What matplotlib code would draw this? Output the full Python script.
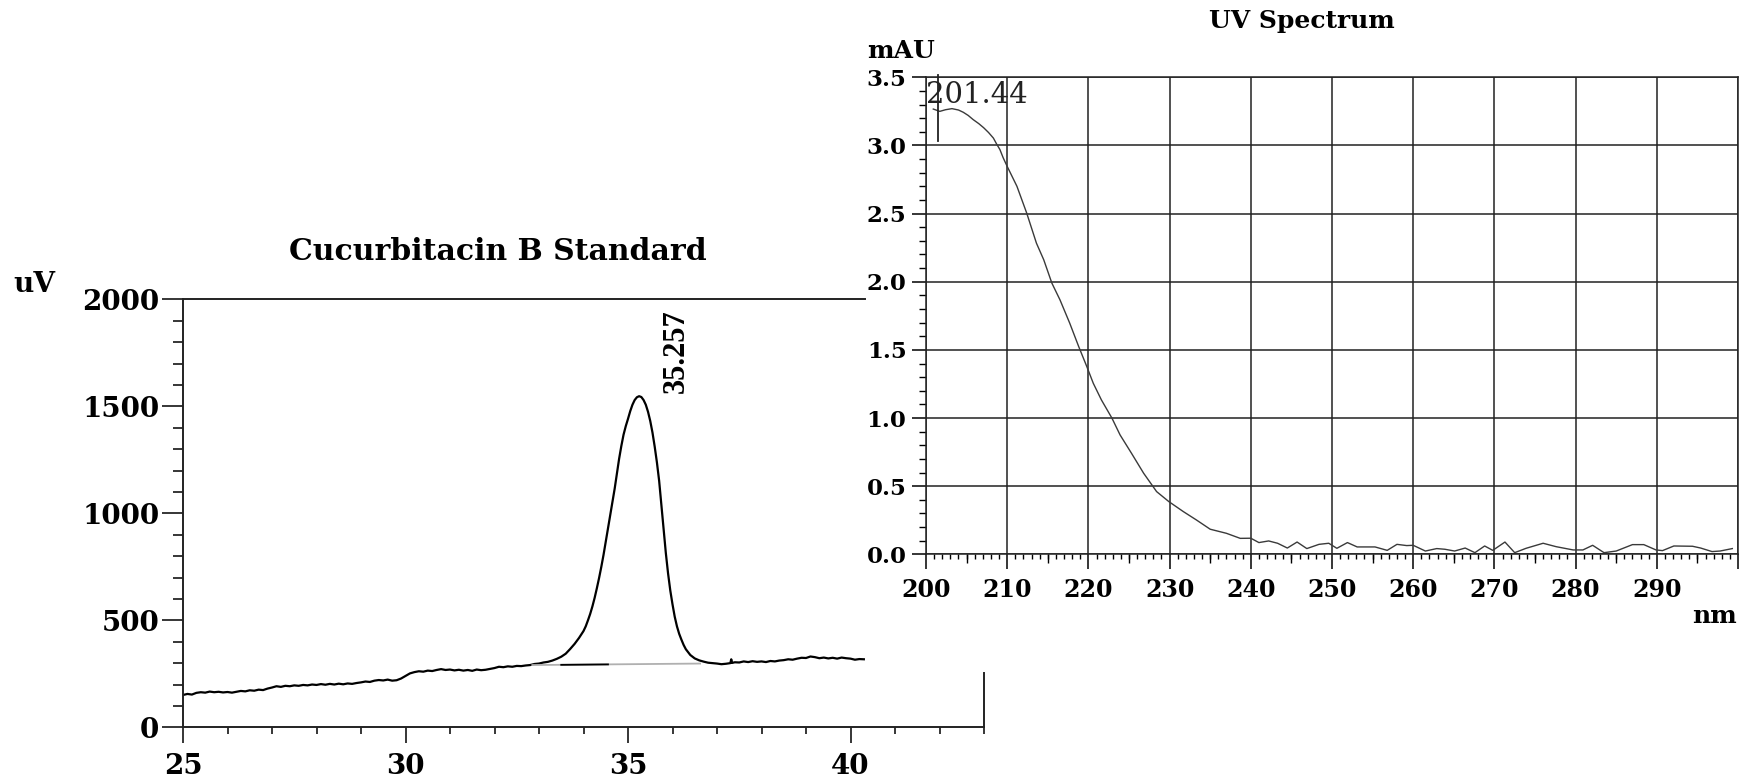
import matplotlib
matplotlib.use("Agg")
import matplotlib.pyplot as plt
from matplotlib.ticker import MultipleLocator, NullFormatter

plt.rcParams["font.family"] = ["DejaVu Serif"]

# --- chromatogram (Cucurbitacin B standard) ---
rt_min = [
    25.0, 25.1, 25.2, 25.3, 25.4, 25.5, 25.6, 25.7, 25.8, 25.9,
    26.0, 26.1, 26.2, 26.3, 26.4, 26.5, 26.6, 26.7, 26.8, 26.9,
    27.0, 27.1, 27.2, 27.3, 27.4, 27.5, 27.6, 27.7, 27.8, 27.9,
    28.0, 28.1, 28.2, 28.3, 28.4, 28.5, 28.6, 28.7, 28.8, 28.9,
    29.0, 29.1, 29.2, 29.3, 29.4, 29.5, 29.6, 29.7, 29.8, 29.9,
    30.0, 30.1, 30.2, 30.3, 30.4, 30.5, 30.6, 30.7, 30.8, 30.9,
    31.0, 31.1, 31.2, 31.3, 31.4, 31.5, 31.6, 31.7, 31.8, 31.9,
    32.0, 32.1, 32.2, 32.3, 32.4, 32.5, 32.6, 32.7, 32.8, 32.9,
    33.0, 33.1, 33.2, 33.3, 33.4, 33.5, 33.6, 33.7, 33.8, 33.9,
    34.0, 34.05, 34.1, 34.15, 34.2, 34.25, 34.3, 34.35, 34.4, 34.45,
    34.5, 34.55, 34.6, 34.65, 34.7, 34.75, 34.8, 34.85, 34.9, 34.95,
    35.0, 35.05, 35.1, 35.15, 35.2, 35.25, 35.3, 35.35, 35.4, 35.45,
    35.5, 35.55, 35.6, 35.65, 35.7, 35.75, 35.8, 35.85, 35.9, 35.95,
    36.0, 36.05, 36.1, 36.15, 36.2, 36.25, 36.3, 36.4, 36.5, 36.6,
    36.7, 36.8, 36.9, 37.0, 37.1, 37.2, 37.3, 37.32, 37.34, 37.4,
    37.5, 37.6, 37.7, 37.8, 37.9, 38.0, 38.1, 38.2, 38.3, 38.4,
    38.5, 38.6, 38.7, 38.8, 38.9, 39.0, 39.1, 39.2, 39.3, 39.4,
    39.5, 39.6, 39.7, 39.8, 39.9, 40.0, 40.1, 40.2, 40.3,
]
signal_uv = [
    151, 156, 153, 161, 164, 162, 167, 164, 166, 163,
    165, 162, 166, 170, 168, 173, 171, 176, 174, 181,
    186, 192, 189, 194, 192, 196, 194, 198, 196, 200,
    198, 202, 199, 203, 200, 204, 201, 205, 203, 207,
    210, 214, 212, 218, 221, 219, 223, 218, 220, 228,
    240, 252, 258, 262, 260, 265, 263, 268, 272, 268,
    270, 266, 269, 265, 268, 264, 270, 267, 269, 273,
    277, 283, 281, 285, 283, 287, 286, 289, 291, 296,
    298, 303, 306, 312, 320, 330, 344, 366, 390, 418,
    450, 472, 500, 530, 565, 605, 650, 698, 750, 806,
    868, 928, 990, 1052, 1115, 1185, 1255, 1315, 1368, 1408,
    1442, 1478, 1508, 1530, 1543, 1548, 1544, 1530, 1508, 1475,
    1432, 1378, 1312, 1238, 1152, 1040, 925, 815, 720, 640,
    575, 517, 472, 437, 410, 385, 365, 338, 322, 313,
    307, 302, 300, 298, 295, 297, 300, 318, 301, 304,
    303, 308, 305, 309, 306, 308, 305, 310, 308, 312,
    314, 318, 316, 321, 325, 324, 331, 328, 323, 326,
    322, 325, 321, 326, 323, 321, 316, 319, 318,
]
peak_rt = 35.257
peak_label = "35.257"
# integration baseline under the peak
base_rt = [32.85, 36.62]
base_uv = [291, 298]
base_dark_rt = [33.5, 34.55]
base_dark_uv = [292, 294]
chrom_xticks = [25, 30, 35, 40]
chrom_yticks = [0, 500, 1000, 1500, 2000]

# --- UV spectrum ---
wavelength_nm = [
    200.9, 201.7, 202.4, 203.2, 204.0, 204.6, 205.2, 205.8, 206.5, 207.1,
    207.7, 208.3, 208.7, 209.1, 209.5, 210.0, 211.2, 212.4, 213.6, 214.5,
    215.5, 216.5, 217.7, 218.8, 219.8, 220.6, 221.6, 222.9, 223.9, 225.3,
    226.8, 228.4, 229.9, 231.7, 233.3, 235.0, 237.0, 238.7, 240.0, 241.0,
    242.2, 243.3, 244.5, 245.7, 246.9, 248.4, 249.6, 250.6, 251.9, 253.1,
    255.3, 256.8, 258.0, 259.2, 260.0, 261.5, 262.9, 263.9, 265.1, 266.4,
    267.6, 268.8, 269.8, 271.3, 272.5, 273.9, 276.0, 277.6, 279.7, 280.9,
    282.1, 283.5, 285.0, 287.0, 288.4, 289.9, 290.7, 292.1, 294.4, 295.4,
    296.8, 297.8, 299.3,
]
absorbance_mau = [
    3.267, 3.25, 3.262, 3.27, 3.26, 3.243, 3.22, 3.19, 3.16, 3.13,
    3.095, 3.054, 3.01, 2.97, 2.91, 2.846, 2.70, 2.504, 2.283, 2.161,
    1.99, 1.867, 1.696, 1.525, 1.378, 1.255, 1.133, 0.999, 0.876, 0.742,
    0.595, 0.46, 0.387, 0.313, 0.252, 0.184, 0.154, 0.117, 0.118, 0.086,
    0.098, 0.081, 0.046, 0.09, 0.042, 0.073, 0.081, 0.044, 0.086, 0.054,
    0.054, 0.029, 0.073, 0.064, 0.066, 0.024, 0.042, 0.037, 0.024, 0.046,
    0.012, 0.061, 0.029, 0.09, 0.012, 0.044, 0.081, 0.056, 0.032, 0.032,
    0.066, 0.012, 0.024, 0.071, 0.071, 0.032, 0.027, 0.061, 0.059, 0.046,
    0.02, 0.024, 0.042,
]
lambda_max = 201.44
lambda_label = "201.44"
uv_xticks = [200, 210, 220, 230, 240, 250, 260, 270, 280, 290, 300]
uv_xticklabels = ["200", "210", "220", "230", "240", "250", "260", "270", "280", "290", ""]
uv_mid_ticks = [205, 215, 225, 235, 245, 255, 265, 275, 285, 295]
uv_yticks = [0.0, 0.5, 1.0, 1.5, 2.0, 2.5, 3.0, 3.5]

W, H = 1747, 779
fig = plt.figure(figsize=(W / 100, H / 100), dpi=100)

# ---------------- left: chromatogram ----------------
ax1 = fig.add_axes([183 / W, 1 - 727.3 / H, 801 / W, 427.8 / H])
ax1.plot(rt_min, signal_uv, color="black", lw=1.6)
ax1.plot(base_rt, base_uv, color="#b0b0b0", lw=1.3)
ax1.plot(base_dark_rt, base_dark_uv, color="black", lw=1.3)
ax1.set_xlim(25, 43)
ax1.set_ylim(0, 2000)
for side in ["left", "bottom", "top", "right"]:
    ax1.spines[side].set_linewidth(1.4)
    ax1.spines[side].set_color("#222222")
ax1.spines["top"].set_bounds(25, 40.33)
ax1.spines["right"].set_bounds(0, 254)
ax1.set_xticks(chrom_xticks)
ax1.set_yticks(chrom_yticks)
ax1.xaxis.set_minor_locator(MultipleLocator(1))
ax1.yaxis.set_minor_locator(MultipleLocator(100))
ax1.tick_params(axis="x", which="major", direction="out", length=11.5, width=1.1, pad=7,
                labelsize=20)
ax1.tick_params(axis="x", which="minor", direction="out", length=5, width=1.1)
ax1.tick_params(axis="y", which="major", direction="out", length=15, width=1.1, pad=2,
                labelsize=20)
ax1.tick_params(axis="y", which="minor", direction="out", length=7, width=1.1)
for lab in ax1.get_xticklabels() + ax1.get_yticklabels():
    lab.set_fontweight("bold")
ax1.text(36.08, 1563, peak_label, rotation=90, ha="center", va="bottom",
         fontsize=22, fontweight="bold", family="Liberation Serif")
fig.text(13 / W, 1 - 292 / H, "uV", fontsize=20, fontweight="bold", va="baseline")
fig.text(497.5 / W, 1 - 260 / H, "Cucurbitacin B Standard", fontsize=21.5,
         fontweight="bold", ha="center", va="baseline")

# ---------------- right: UV spectrum ----------------
ax2 = fig.add_axes([926 / W, 1 - 554.3 / H, 812 / W, 477 / H])
ax2.plot(wavelength_nm, absorbance_mau, color="#3a3a3a", lw=1.0)
ax2.set_xlim(200, 300)
ax2.set_ylim(0, 3.5)
for side in ["left", "bottom", "top", "right"]:
    ax2.spines[side].set_linewidth(1.1)
    ax2.spines[side].set_color("#222222")
ax2.set_xticks(uv_xticks, uv_xticklabels)
ax2.set_yticks(uv_yticks, [f"{v:.1f}" for v in uv_yticks])
ax2.xaxis.set_minor_locator(MultipleLocator(1))
ax2.yaxis.set_minor_locator(MultipleLocator(0.1))
ax2.grid(which="major", color="#222222", lw=1.1)
ax2.tick_params(axis="x", which="major", direction="out", length=10.8, width=1.1, pad=6,
                labelsize=17)
ax2.tick_params(axis="x", which="minor", direction="out", length=3.6, width=1.0)
ax2.tick_params(axis="y", which="major", direction="out", length=10, width=1.1, pad=4,
                labelsize=16.5)
ax2.tick_params(axis="y", which="minor", direction="out", length=5, width=1.0)
for lab in ax2.get_xticklabels() + ax2.get_yticklabels():
    lab.set_fontweight("bold")

sec = ax2.secondary_xaxis("bottom")
sec.set_xticks(uv_mid_ticks)
sec.xaxis.set_major_formatter(NullFormatter())
sec.tick_params(axis="x", which="major", direction="out", length=6.5, width=1.0)
sec.tick_params(axis="x", which="minor", length=0)
sec.spines["bottom"].set_visible(False)

ax2.plot([lambda_max, lambda_max], [3.03, 3.52], color="#222222", lw=1.3, clip_on=False)
ax2.text(200.05, 3.47, lambda_label, ha="left", va="top", fontsize=21, color="#222222")

fig.text(867 / W, 1 - 58 / H, "mAU", fontsize=18, fontweight="bold", va="baseline")
fig.text(1302 / W, 1 - 28 / H, "UV Spectrum", fontsize=18, fontweight="bold",
         ha="center", va="baseline")
fig.text(1737 / W, 1 - 623 / H, "nm", fontsize=18, fontweight="bold", ha="right",
         va="baseline")

fig.savefig("out.png", dpi=100)
